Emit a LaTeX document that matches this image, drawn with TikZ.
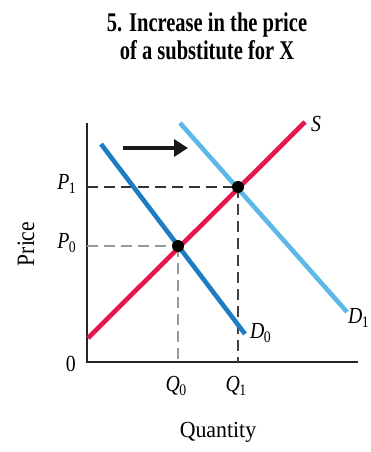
\documentclass[tikz,border=0pt]{standalone}
\usepackage{fontspec}
\setmainfont{Liberation Serif}
\newfontfamily\titlefont[FakeStretch=0.76]{Liberation Serif}
\newfontfamily\labfont[FakeStretch=0.86]{Liberation Serif}
\newfontfamily\wordfont[FakeStretch=0.95]{Liberation Serif}
\usetikzlibrary{arrows.meta}
\definecolor{dzero}{HTML}{1C7DC2}
\definecolor{done}{HTML}{5CB8E6}
\definecolor{supp}{HTML}{E6174D}
\definecolor{dgray}{HTML}{999999}
\newcommand{\lab}[2]{\textit{#1}\kern-0.5pt\raisebox{-0.4ex}{\fontsize{16}{16}\selectfont #2}}
\tikzset{
  curve/.style={line width=4.6pt},
  axisline/.style={line width=1.6pt, black!85},
  guide/.style={line width=1.3pt, dash pattern=on 11pt off 6pt},
  eqdot/.style={circle, fill=black, inner sep=0pt, minimum size=12pt},
  lbl/.style={font=\labfont\fontsize{23}{23}\selectfont, inner sep=0pt},
}
\begin{document}
\begin{tikzpicture}[x=1pt,y=-1pt]
\useasboundingbox (0,0) rectangle (371,452);
% title
\node[font=\titlefont\bfseries\fontsize{27}{28}\selectfont, align=center, inner sep=0pt] (title) at (207,36) {5. Increase in the price\\of a substitute for X};
% axes
\coordinate (o) at (87,362);
\coordinate (ytop) at (87,123);
\coordinate (xend) at (358,362);
\draw[axisline] (ytop) -- (o) -- (xend);
% key points
\coordinate (e0) at (178,246);
\coordinate (e1) at (238,187);
\coordinate (p0) at (87,246);
\coordinate (p1) at (87,187);
\coordinate (q0) at (178,362);
\coordinate (q1) at (238,362);
% guides
\draw[guide, black!80] (p1) -- (e1);
\draw[guide, black!75] (e1) -- (q1);
\draw[guide, dgray] (p0) -- (e0);
\draw[guide, dgray] (e0) -- (q0);
% curves
\coordinate (d0a) at (101,144);
\coordinate (d0b) at (245,334);
\coordinate (d1a) at (180,123);
\coordinate (d1b) at (347,312);
\coordinate (sa) at (88,338);
\coordinate (sb) at (305,122);
\draw[curve, done] (d1a) -- (d1b);
\draw[curve, dzero] (d0a) -- (d0b);
\draw[curve, supp] (sa) -- (sb);
% dots
\node[eqdot] (dot0) at (e0) {};
\node[eqdot] (dot1) at (e1) {};
% shift arrow
\coordinate (arA) at (123,148);
\coordinate (arB) at (188,148);
\draw[line width=3.8pt, -{Triangle[length=14pt,width=17pt]}, black!90] (arA) -- (arB);
% labels
\node[lbl, anchor=west] (slab) at (311,124) {\textit{S}};
\node[lbl, anchor=west] (d0lab) at (250,333) {\lab{D}{0}};
\node[lbl, anchor=west] (d1lab) at (348,318) {\lab{D}{1}};
\node[lbl, anchor=east] (p1lab) at (76,184) {\lab{P}{1}};
\node[lbl, anchor=east] (p0lab) at (76,243) {\lab{P}{0}};
\node[lbl, anchor=east] (zlab) at (76,364) {0};
\node[lbl] (q0lab) at (176,386) {\lab{Q}{0}};
\node[lbl] (q1lab) at (236,386) {\lab{Q}{1}};
\node[lbl, font=\wordfont\fontsize{23}{23}\selectfont] (qty) at (218,432) {Quantity};
\node[lbl, rotate=90, font=\labfont\fontsize{25}{25}\selectfont] (price) at (26,244) {Price};
\end{tikzpicture}
\end{document}
